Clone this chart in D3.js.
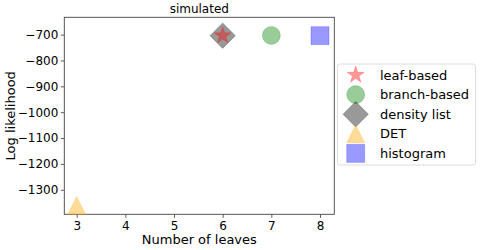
<!DOCTYPE html>
<html>
<head>
<meta charset="utf-8">
<script src="https://cdn.jsdelivr.net/npm/d3@7.9.0/dist/d3.min.js"></script>
<style>
  body { margin: 0; background: #fff; }
  svg { font-family: "DejaVu Sans", sans-serif; display: block; }
</style>
</head>
<body>
<svg id="chart" width="480" height="250"></svg>
<script>
// ─────────── DATA ───────────
const methods = ["leaf-based", "branch-based", "density list", "DET", "histogram"];
const leaves = [6, 7, 6, 3, 8];
const logLik = [-704, -703, -704, -1361, -704];
const colors = ["red", "green", "black", "orange", "blue"];
const shapes = ["star", "circle", "diamond", "triangle", "square"];
const xTicks = [3, 4, 5, 6, 7, 8];
const yTicks = [-1300, -1200, -1100, -1000, -900, -800, -700];
const drawOrder = [2, 1, 3, 4, 0]; // star sits on top of the diamond

// ─────────── LAYOUT ───────────
const plot = { left: 64.3, right: 334.3, top: 17.3, bottom: 214.3 };
const svg = d3.select("#chart");

const x = d3.scaleLinear().domain([2.745, 8.294]).range([plot.left, plot.right]);
const y = d3.scaleLinear().domain([-1395, -633]).range([plot.bottom, plot.top]);

// marker path, matplotlib-ish sizing (L = marker size in px)
function markerPath(shape, L) {
  const h = L / 2;
  const p = d3.path();
  if (shape === "circle") {
    p.arc(0, 0, h, 0, 2 * Math.PI);
  } else if (shape === "square") {
    p.rect(-h, -h, L, L);
  } else if (shape === "diamond") {
    const d = h * Math.SQRT2;
    p.moveTo(0, -d); p.lineTo(d, 0); p.lineTo(0, d); p.lineTo(-d, 0); p.closePath();
  } else if (shape === "triangle") {
    p.moveTo(0, -h); p.lineTo(h, h); p.lineTo(-h, h); p.closePath();
  } else if (shape === "star") {
    const inner = h * 0.381966;
    for (let i = 0; i < 10; i++) {
      const r = i % 2 === 0 ? h : inner;
      const a = -Math.PI / 2 + i * Math.PI / 5;
      const px = r * Math.cos(a), py = r * Math.sin(a);
      if (i === 0) p.moveTo(px, py); else p.lineTo(px, py);
    }
    p.closePath();
  }
  return p.toString();
}

function styleMarker(sel, i) {
  sel.attr("fill", colors[i]).attr("fill-opacity", 0.4)
    .attr("stroke", colors[i]).attr("stroke-opacity", 0.25)
    .attr("stroke-width", 0.8);
}

// ─────────── AXES ───────────
const xAxis = svg.append("g")
  .attr("transform", `translate(0,${plot.bottom})`)
  .call(d3.axisBottom(x).tickValues(xTicks).tickSize(3.5).tickPadding(3.5).tickSizeOuter(0)
    .tickFormat(d3.format("d")));
const yAxis = svg.append("g")
  .attr("transform", `translate(${plot.left},0)`)
  .call(d3.axisLeft(y).tickValues(yTicks).tickSize(3.5).tickPadding(2.5).tickSizeOuter(0)
    .tickFormat(d3.format("d")));

[xAxis, yAxis].forEach(g => {
  g.select(".domain").remove();
  g.selectAll("line").attr("stroke", "#333").attr("stroke-width", 0.8);
  g.selectAll("text").attr("font-size", 12).attr("fill", "#000")
    .attr("font-family", "DejaVu Sans");
});

// frame
svg.append("rect")
  .attr("x", plot.left).attr("y", plot.top)
  .attr("width", plot.right - plot.left).attr("height", plot.bottom - plot.top)
  .attr("fill", "none").attr("stroke", "#444").attr("stroke-width", 0.9);

// ─────────── MARKERS ───────────
drawOrder.forEach(i => {
  svg.append("path")
    .attr("d", markerPath(shapes[i], 18))
    .attr("transform", `translate(${x(leaves[i])},${y(logLik[i])})`)
    .call(styleMarker, i);
});

// ─────────── TEXT ───────────
svg.append("text")
  .attr("x", (plot.left + plot.right) / 2).attr("y", 12.7)
  .attr("text-anchor", "middle").attr("font-size", 12)
  .text("simulated");

svg.append("text")
  .attr("x", (plot.left + plot.right) / 2).attr("y", 244)
  .attr("text-anchor", "middle").attr("font-size", 13)
  .text("Number of leaves");

svg.append("text")
  .attr("transform", `translate(14.5,${(plot.top + plot.bottom) / 2}) rotate(-90)`)
  .attr("text-anchor", "middle").attr("font-size", 13)
  .text("Log likelihood");

// ─────────── LEGEND ───────────
const legend = svg.append("g");
legend.append("rect")
  .attr("x", 337.5).attr("y", 64).attr("width", 138).attr("height", 101)
  .attr("rx", 2.5).attr("fill", "#fff").attr("fill-opacity", 0.8)
  .attr("stroke", "#d6d6d6").attr("stroke-width", 0.8);

methods.forEach((m, i) => {
  const cy = 75 + i * 19.6;
  legend.append("path")
    .attr("d", markerPath(shapes[i], 18))
    .attr("transform", `translate(355.7,${cy})`)
    .call(styleMarker, i);
  legend.append("text")
    .attr("x", 380).attr("y", cy + 4.6)
    .attr("font-size", 13)
    .text(m);
});
</script>
</body>
</html>
